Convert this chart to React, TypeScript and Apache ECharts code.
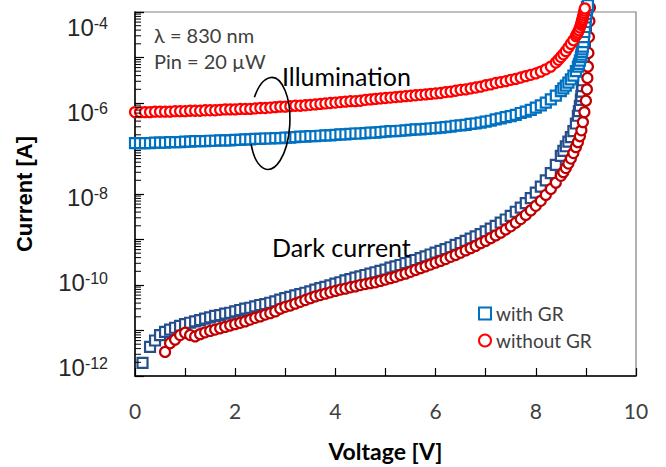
import React, { useEffect, useRef } from "react";
import * as echarts from "echarts";

// ---- Data: voltage sweeps [V] and measured current as log10(I / A) ----
// Illumination, with guard ring (blue squares)
const vIllumGR = [
  0.0, 0.1, 0.2, 0.3, 0.4, 0.5, 0.6, 0.7, 0.8, 0.9,
  1.0, 1.1, 1.2, 1.3, 1.4, 1.5, 1.6, 1.7, 1.8, 1.9,
  2.0, 2.1, 2.2, 2.3, 2.4, 2.5, 2.6, 2.7, 2.8, 2.9,
  3.0, 3.1, 3.2, 3.3, 3.4, 3.5, 3.6, 3.7, 3.8, 3.9,
  4.0, 4.1, 4.2, 4.3, 4.4, 4.5, 4.6, 4.7, 4.8, 4.9,
  5.0, 5.1, 5.2, 5.3, 5.4, 5.5, 5.6, 5.7, 5.8, 5.9,
  6.0, 6.1, 6.2, 6.3, 6.4, 6.5, 6.6, 6.7, 6.8, 6.9,
  7.0, 7.1, 7.2, 7.3, 7.4, 7.5, 7.6, 7.7, 7.8, 7.9,
  8.0, 8.1, 8.2, 8.3, 8.4, 8.5, 8.55, 8.6, 8.65, 8.7,
  8.75, 8.8, 8.84, 8.86, 8.88, 8.9, 8.91, 8.92, 8.93, 8.94,
  8.95, 8.96, 8.97, 8.98, 8.99, 9.0, 9.01, 9.02, 9.03, 9.04,
];
const logIllumGR = [
  -6.88, -6.88, -6.88, -6.88, -6.87, -6.87, -6.87, -6.86, -6.86, -6.86,
  -6.85, -6.85, -6.84, -6.84, -6.84, -6.83, -6.83, -6.82, -6.82, -6.82,
  -6.81, -6.81, -6.80, -6.80, -6.79, -6.79, -6.78, -6.78, -6.77, -6.77,
  -6.76, -6.76, -6.75, -6.74, -6.74, -6.73, -6.73, -6.72, -6.71, -6.71,
  -6.70, -6.69, -6.69, -6.68, -6.67, -6.67, -6.66, -6.65, -6.65, -6.64,
  -6.63, -6.62, -6.62, -6.61, -6.60, -6.59, -6.58, -6.58, -6.57, -6.56,
  -6.55, -6.54, -6.53, -6.52, -6.50, -6.49, -6.48, -6.46, -6.45, -6.43,
  -6.41, -6.39, -6.36, -6.34, -6.31, -6.29, -6.26, -6.22, -6.19, -6.15,
  -6.10, -6.05, -5.99, -5.92, -5.84, -5.74, -5.68, -5.62, -5.55, -5.48,
  -5.40, -5.30, -5.20, -5.14, -5.07, -4.99, -4.94, -4.88, -4.82, -4.76,
  -4.66, -4.55, -4.44, -4.33, -4.22, -4.12, -4.04, -3.96, -3.90, -3.85,
];

// Illumination, without guard ring (red circles)
const vIllumNoGR = [
  0.0, 0.1, 0.2, 0.3, 0.4, 0.5, 0.6, 0.7, 0.8, 0.9,
  1.0, 1.1, 1.2, 1.3, 1.4, 1.5, 1.6, 1.7, 1.8, 1.9,
  2.0, 2.1, 2.2, 2.3, 2.4, 2.5, 2.6, 2.7, 2.8, 2.9,
  3.0, 3.1, 3.2, 3.3, 3.4, 3.5, 3.6, 3.7, 3.8, 3.9,
  4.0, 4.1, 4.2, 4.3, 4.4, 4.5, 4.6, 4.7, 4.8, 4.9,
  5.0, 5.1, 5.2, 5.3, 5.4, 5.5, 5.6, 5.7, 5.8, 5.9,
  6.0, 6.1, 6.2, 6.3, 6.4, 6.5, 6.6, 6.7, 6.8, 6.9,
  7.0, 7.1, 7.2, 7.3, 7.4, 7.5, 7.6, 7.7, 7.8, 7.9,
  8.0, 8.1, 8.2, 8.3, 8.4, 8.45, 8.5, 8.55, 8.6, 8.65,
  8.7, 8.75, 8.8, 8.82, 8.84, 8.86, 8.88, 8.9, 8.91, 8.92,
  8.93, 8.94, 8.95, 8.96, 8.97, 8.98,
];
const logIllumNoGR = [
  -6.20, -6.20, -6.20, -6.20, -6.19, -6.19, -6.19, -6.19, -6.18, -6.18,
  -6.18, -6.17, -6.17, -6.17, -6.16, -6.16, -6.16, -6.15, -6.14, -6.14,
  -6.14, -6.13, -6.13, -6.13, -6.12, -6.11, -6.11, -6.10, -6.09, -6.08,
  -6.08, -6.07, -6.06, -6.06, -6.05, -6.04, -6.03, -6.02, -6.01, -6.00,
  -5.99, -5.98, -5.97, -5.96, -5.96, -5.95, -5.93, -5.92, -5.91, -5.90,
  -5.89, -5.88, -5.87, -5.86, -5.85, -5.84, -5.83, -5.82, -5.81, -5.80,
  -5.79, -5.78, -5.76, -5.75, -5.73, -5.71, -5.70, -5.68, -5.66, -5.64,
  -5.61, -5.59, -5.56, -5.54, -5.52, -5.49, -5.47, -5.44, -5.41, -5.38,
  -5.35, -5.31, -5.26, -5.20, -5.11, -5.05, -4.99, -4.93, -4.86, -4.78,
  -4.70, -4.62, -4.53, -4.49, -4.45, -4.40, -4.34, -4.28, -4.24, -4.20,
  -4.16, -4.12, -4.07, -4.02, -3.97, -3.92,
];

// Dark current, with guard ring (dark blue squares)
const vDarkGR = [
  0.15, 0.3, 0.4, 0.5, 0.6, 0.7, 0.8, 0.9, 1.0, 1.1,
  1.2, 1.3, 1.4, 1.5, 1.6, 1.7, 1.8, 1.9, 2.0, 2.1,
  2.2, 2.3, 2.4, 2.5, 2.6, 2.7, 2.8, 2.9, 3.0, 3.1,
  3.2, 3.3, 3.4, 3.5, 3.6, 3.7, 3.8, 3.9, 4.0, 4.1,
  4.2, 4.3, 4.4, 4.5, 4.6, 4.7, 4.8, 4.9, 5.0, 5.1,
  5.2, 5.3, 5.4, 5.5, 5.6, 5.7, 5.8, 5.9, 6.0, 6.1,
  6.2, 6.3, 6.4, 6.5, 6.6, 6.7, 6.8, 6.9, 7.0, 7.1,
  7.2, 7.3, 7.4, 7.5, 7.6, 7.7, 7.8, 7.9, 8.0, 8.1,
  8.2, 8.3, 8.4, 8.5, 8.55, 8.6, 8.65, 8.7, 8.75, 8.8,
  8.84, 8.86, 8.88, 8.9, 8.91, 8.92, 8.93, 8.94, 8.95, 8.96,
  8.97, 8.98, 8.99, 9.0, 9.01, 9.02,
];
const logDarkGR = [
  -11.71, -11.36, -11.22, -11.10, -11.03, -10.98, -10.94, -10.90, -10.86, -10.83,
  -10.80, -10.77, -10.74, -10.71, -10.68, -10.66, -10.63, -10.61, -10.58, -10.55,
  -10.52, -10.50, -10.47, -10.44, -10.42, -10.39, -10.36, -10.32, -10.29, -10.26,
  -10.23, -10.20, -10.17, -10.14, -10.10, -10.07, -10.04, -10.01, -9.97, -9.94,
  -9.90, -9.87, -9.84, -9.81, -9.78, -9.75, -9.72, -9.69, -9.66, -9.62,
  -9.59, -9.56, -9.52, -9.49, -9.45, -9.41, -9.37, -9.33, -9.29, -9.25,
  -9.21, -9.17, -9.12, -9.08, -9.03, -8.98, -8.93, -8.88, -8.82, -8.76,
  -8.70, -8.63, -8.56, -8.48, -8.39, -8.30, -8.20, -8.09, -7.97, -7.84,
  -7.70, -7.54, -7.36, -7.16, -7.05, -6.95, -6.85, -6.75, -6.62, -6.45,
  -6.28, -6.18, -6.06, -5.93, -5.85, -5.75, -5.63, -5.50, -5.31, -5.10,
  -4.90, -4.70, -4.50, -4.30, -4.10, -3.90,
];

// Dark current, without guard ring (dark red circles)
const vDarkNoGR = [
  0.6, 0.7, 0.8, 0.9, 1.0, 1.1, 1.2, 1.3, 1.4, 1.5,
  1.6, 1.7, 1.8, 1.9, 2.0, 2.1, 2.2, 2.3, 2.4, 2.5,
  2.6, 2.7, 2.8, 2.9, 3.0, 3.1, 3.2, 3.3, 3.4, 3.5,
  3.6, 3.7, 3.8, 3.9, 4.0, 4.1, 4.2, 4.3, 4.4, 4.5,
  4.6, 4.7, 4.8, 4.9, 5.0, 5.1, 5.2, 5.3, 5.4, 5.5,
  5.6, 5.7, 5.8, 5.9, 6.0, 6.1, 6.2, 6.3, 6.4, 6.5,
  6.6, 6.7, 6.8, 6.9, 7.0, 7.1, 7.2, 7.3, 7.4, 7.5,
  7.6, 7.7, 7.8, 7.9, 8.0, 8.1, 8.2, 8.3, 8.4, 8.5,
  8.55, 8.6, 8.65, 8.7, 8.75, 8.8, 8.84, 8.88, 8.91, 8.94,
  8.97, 9.0, 9.02, 9.03, 9.04, 9.05, 9.06, 9.07, 9.08,
];
const logDarkNoGR = [
  -11.47, -11.28, -11.20, -11.10, -11.05, -11.10, -11.13, -11.08, -11.04, -11.01,
  -10.98, -10.95, -10.92, -10.89, -10.86, -10.83, -10.80, -10.76, -10.72, -10.69,
  -10.65, -10.62, -10.58, -10.52, -10.48, -10.45, -10.41, -10.37, -10.33, -10.29,
  -10.25, -10.22, -10.19, -10.16, -10.13, -10.10, -10.08, -10.05, -10.03, -10.00,
  -9.98, -9.96, -9.94, -9.91, -9.88, -9.85, -9.82, -9.78, -9.75, -9.71,
  -9.67, -9.63, -9.59, -9.55, -9.51, -9.47, -9.43, -9.38, -9.34, -9.29,
  -9.24, -9.19, -9.14, -9.08, -9.03, -8.97, -8.91, -8.85, -8.78, -8.71,
  -8.63, -8.55, -8.46, -8.36, -8.26, -8.15, -8.02, -7.89, -7.75, -7.60,
  -7.52, -7.43, -7.33, -7.22, -7.10, -6.97, -6.86, -6.73, -6.60, -6.42,
  -6.20, -5.95, -5.70, -5.45, -5.20, -4.90, -4.55, -4.20, -3.90,
];

// Axis tick labels
const xLabelValues = [0, 2, 4, 6, 8, 10];
const yLabelExponents = [-12, -10, -8, -6, -4];
const minorMantissas = [2, 3, 4, 5, 6, 7, 8, 9];
const minorDecades = [-12, -11, -10, -9, -8, -7, -6, -5];

const toPoints = (v: number[], logI: number[]) =>
  v.map((x, i) => [x, Math.pow(10, logI[i])]);

const minorTickValues: number[][] = [];
minorDecades.forEach((d) =>
  minorMantissas.forEach((m) => minorTickValues.push([0, m * Math.pow(10, d)]))
);

// Open ellipse around the illumination curves
echarts.graphic.registerShape(
  "illumArc",
  echarts.graphic.extendPath("M -17 -28 A 20 46 0 1 1 -18 19", {}) as any
);

const CAL = "Lato";
const ARIAL = "Liberation Sans";

const scatterBase = (
  name: string,
  data: number[][],
  symbol: string,
  color: string
) => ({
  name,
  type: "scatter",
  data,
  symbol,
  symbolSize: 10,
  clip: false,
  itemStyle: { color: "#ffffff", borderColor: color, borderWidth: 2.2, opacity: 1 },
  emphasis: { disabled: true },
});

export default function App() {
  const ref = useRef<HTMLDivElement>(null);

  useEffect(() => {
    const chart = echarts.init(ref.current!, null, { renderer: "svg" });
    const labelFormatter = (v: number) => {
      const e = Math.log10(v);
      const r = Math.round(e);
      if (Math.abs(e - r) > 0.001) return "";
      return yLabelExponents.includes(r) ? `{b|10}{s|${r}}` : "";
    };
    chart.setOption({
      animation: false,
      backgroundColor: "#ffffff",
      grid: {
        left: 135,
        top: 12,
        width: 501,
        height: 364,
        show: true,
        borderColor: "#7f7f7f",
        borderWidth: 1.2,
      },
      legend: {
        data: ["with GR", "without GR"],
        orient: "vertical",
        left: 473,
        top: 299,
        itemWidth: 12,
        itemHeight: 12,
        itemGap: 8,
        textStyle: { fontFamily: CAL, fontSize: 19, color: "#404040" },
        selectedMode: false,
      },
      xAxis: {
        type: "value",
        min: 0,
        max: 10,
        interval: 1,
        axisLine: { lineStyle: { color: "#000", width: 1.5 } },
        axisTick: { inside: true, length: 8, lineStyle: { color: "#000", width: 1.2 } },
        splitLine: { show: false },
        axisLabel: {
          formatter: (v: number) => (xLabelValues.includes(v) ? String(v) : ""),
          fontFamily: CAL,
          fontSize: 21,
          color: "#404040",
          margin: 24,
        },
        name: "Voltage [V]",
        nameLocation: "middle",
        nameGap: 63,
        nameTextStyle: { fontFamily: CAL, fontWeight: "bold", fontSize: 23, color: "#000" },
      },
      yAxis: [
        {
          type: "log",
          logBase: 10,
          min: 1e-12,
          max: 1e-4,
          splitNumber: 8,
          axisLine: { show: true, lineStyle: { color: "#000", width: 1.5 } },
          axisTick: { show: true, inside: true, length: 9, lineStyle: { color: "#000", width: 1.2 } },
          axisLabel: { show: false },
          splitLine: { show: false },
          name: "Current [A]",
          nameLocation: "middle",
          nameGap: 100,
          nameTextStyle: { fontFamily: ARIAL, fontWeight: "bold", fontSize: 22, color: "#000" },
        },
        {
          type: "log",
          logBase: 10,
          min: 6.49e-13,
          max: 2.25e-4,
          splitNumber: 8,
          position: "left",
          axisLine: { show: false },
          axisTick: { show: false },
          splitLine: { show: false },
          axisLabel: {
            margin: 27,
            formatter: labelFormatter,
            rich: {
              b: { fontFamily: ARIAL, fontSize: 24, color: "#262626" },
              s: { fontFamily: ARIAL, fontSize: 16, color: "#262626", verticalAlign: "top" },
            },
          },
        },
      ],
      series: [
        {
          type: "custom",
          name: "minor ticks",
          silent: true,
          data: minorTickValues,
          clip: false,
          z: 5,
          renderItem: (_p: any, api: any) => {
            const pt = api.coord([api.value(0), api.value(1)]);
            return {
              type: "line",
              shape: { x1: pt[0], y1: pt[1], x2: pt[0] + 6, y2: pt[1] },
              style: { stroke: "#000", lineWidth: 1 },
            };
          },
        },
        scatterBase("with GR (dark)", toPoints(vDarkGR, logDarkGR), "rect", "#264E8C"),
        scatterBase("without GR (dark)", toPoints(vDarkNoGR, logDarkNoGR), "circle", "#C00000"),
        scatterBase("with GR", toPoints(vIllumGR, logIllumGR), "rect", "#0070C0"),
        scatterBase("without GR", toPoints(vIllumNoGR, logIllumNoGR), "circle", "#FF0000"),
      ],
      graphic: [
        {
          type: "text",
          z: 100,
          style: { x: 154, y: 35, text: "λ = 830 nm", font: `20px ${CAL}`, fill: "#404040", verticalAlign: "middle" },
        },
        {
          type: "text",
          z: 100,
          style: { x: 154, y: 61, text: "Pin = 20 µW", font: `20px ${CAL}`, fill: "#404040", verticalAlign: "middle" },
        },
        {
          type: "text",
          z: 100,
          style: { x: 282, y: 76, text: "Illumination", font: `25px ${CAL}`, fill: "#000", verticalAlign: "middle" },
        },
        {
          type: "text",
          z: 100,
          style: { x: 272, y: 247, text: "Dark current", font: `25px ${CAL}`, fill: "#000", verticalAlign: "middle" },
        },
        {
          type: "illumArc",
          x: 270,
          y: 126,
          rotation: -0.05,
          z: 100,
          style: { stroke: "#000", fill: "none", lineWidth: 1.6 },
        },
      ],
    });
    return () => chart.dispose();
  }, []);

  return (
    <div
      ref={ref}
      style={{ position: "fixed", left: 0, top: 0, width: 666, height: 467, background: "#fff" }}
    />
  );
}
